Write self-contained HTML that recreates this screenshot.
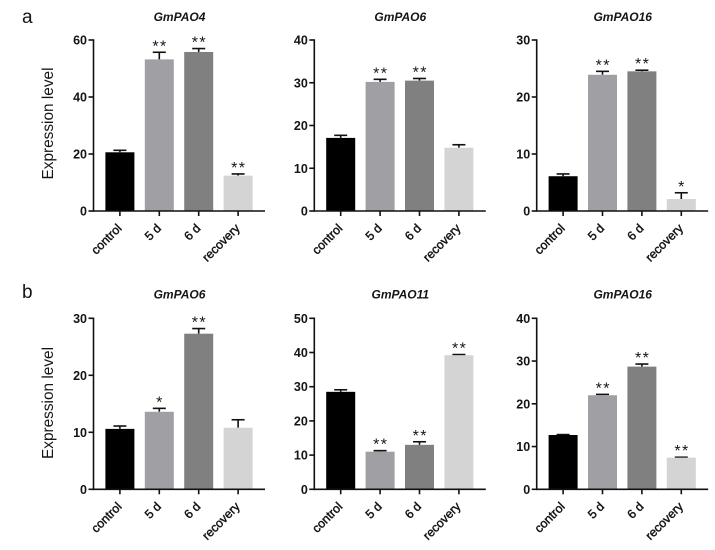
<!DOCTYPE html>
<html lang="en">
<head>
<meta charset="utf-8">
<title>Expression level charts</title>
<style>
html,body{margin:0;padding:0;background:#fff;width:715px;height:550px;overflow:hidden}
svg{display:block;filter:blur(0.3px)}
text{font-family:"Liberation Sans",Arial,sans-serif;fill:#151515}
</style>
</head>
<body>
<svg id="figure" width="715" height="550" viewBox="0 0 715 550" xmlns="http://www.w3.org/2000/svg">
  <text x="22" y="23" font-size="19">a</text>
  <text x="22" y="298" font-size="19">b</text>
  <text transform="translate(52.8,123.5) rotate(-90)" text-anchor="middle" font-size="15.8" textLength="112" lengthAdjust="spacingAndGlyphs">Expression level</text>
  <text transform="translate(52.8,403) rotate(-90)" text-anchor="middle" font-size="15.8" textLength="112" lengthAdjust="spacingAndGlyphs">Expression level</text>
</svg>
<script>
const categories = ['control', '5 d', '6 d', 'recovery'];
const barColors = ['#000000', '#a0a0a4', '#808080', '#d4d4d4'];

const titles = ['GmPAO4', 'GmPAO6', 'GmPAO16', 'GmPAO6', 'GmPAO11', 'GmPAO16'];
const axisMaxima = [60, 40, 30, 30, 50, 40];
const axisSteps = [20, 10, 10, 10, 10, 10];

const meansA1 = [20.6, 53.2, 55.8, 12.4];
const meansA2 = [17.1, 30.2, 30.5, 14.8];
const meansA3 = [6.1, 23.9, 24.5, 2.1];
const meansB1 = [10.6, 13.6, 27.3, 10.8];
const meansB2 = [28.5, 11.0, 13.0, 39.2];
const meansB3 = [12.7, 22.0, 28.7, 7.4];

const errorsA1 = [0.7, 2.5, 1.2, 0.6];
const errorsA2 = [0.6, 0.6, 0.5, 0.7];
const errorsA3 = [0.4, 0.6, 0.2, 1.1];
const errorsB1 = [0.5, 0.6, 0.9, 1.4];
const errorsB2 = [0.6, 0.3, 0.9, 0.2];
const errorsB3 = [0.1, 0.2, 0.6, 0.1];

const marksA1 = ['', '**', '**', '**'];
const marksA2 = ['', '**', '**', ''];
const marksA3 = ['', '**', '**', '*'];
const marksB1 = ['', '*', '**', ''];
const marksB2 = ['', '**', '**', '**'];
const marksB3 = ['', '**', '**', '**'];

const allMeans = [meansA1, meansA2, meansA3, meansB1, meansB2, meansB3];
const allErrors = [errorsA1, errorsA2, errorsA3, errorsB1, errorsB2, errorsB3];
const allMarks = [marksA1, marksA2, marksA3, marksB1, marksB2, marksB3];

const NS = 'http://www.w3.org/2000/svg';
const root = document.getElementById('figure');

function svgEl(tag, parent, props) {
  const el = document.createElementNS(NS, tag);
  Object.keys(props).forEach(function (k) { el.setAttribute(k, props[k]); });
  parent.appendChild(el);
  return el;
}

function drawPanel(index) {
  const col = index % 3;
  const row = index < 3 ? 0 : 1;
  const axisX = [93.5, 314.3, 536.7][col];
  const y0 = row === 0 ? 211 : 489.3;
  const yTop = row === 0 ? 40 : 318.3;
  const yMax = axisMaxima[index];
  const yScale = function (v) { return y0 - (v / yMax) * (y0 - yTop); };
  const xScale = function (i) { return axisX + 26.4 + i * 39.4; };
  const axisEnd = axisX + 171.5;

  const g = svgEl('g', root, {});
  
  

  const title = svgEl('text', g, {
    x: axisX + 86, y: row === 0 ? 21 : 298.5,
    'text-anchor': 'middle', 'font-size': 12, 'font-weight': 'bold', 'font-style': 'italic'
  });
  title.textContent = titles[index];
  
  

  categories.forEach(function (cat, i) {
    const cx = xScale(i);
    const mean = allMeans[index][i];
    const top = mean + allErrors[index][i];
    const capY = yScale(top);

    const stem = svgEl('line', g, { x1: cx, x2: cx, y1: yScale(mean), y2: capY, stroke: '#111', 'stroke-width': 1.6 });
    
    

    const cap = svgEl('line', g, { x1: cx - 6.5, x2: cx + 6.5, y1: capY, y2: capY, stroke: '#111', 'stroke-width': 1.6 });
    
    

    const bar = svgEl('rect', g, {
      x: cx - 14.5, width: 29, y: yScale(mean), height: y0 - yScale(mean), fill: barColors[i]
    });
    
    

    if (allMarks[index][i]) {
      const star = svgEl('text', g, {
        x: cx + 0.7, y: capY - 1, 'text-anchor': 'middle', 'font-size': 16, 'letter-spacing': 1.4
      });
      star.textContent = allMarks[index][i];
      
      
    }

    const tick = svgEl('line', g, { x1: cx, x2: cx, y1: y0, y2: y0 + 5, stroke: '#111', 'stroke-width': 1.6 });
    
    

    const label = svgEl('text', g, {
      transform: 'translate(' + (cx + 2.5) + ',' + (y0 + 18) + ') rotate(-45)',
      'text-anchor': 'end', 'font-size': 12.3, stroke: '#151515', 'stroke-width': 0.45
    });
    label.textContent = cat;
    
    
  });

  for (let v = 0; v <= yMax; v += axisSteps[index]) {
    const y = yScale(v);
    const tick = svgEl('line', g, { x1: axisX - 5, x2: axisX, y1: y, y2: y, stroke: '#111', 'stroke-width': 1.6 });
    
    

    const label = svgEl('text', g, {
      x: axisX - 6.5, y: y + 4.5, 'text-anchor': 'end', 'font-size': 12.5, 'font-weight': 'bold'
    });
    label.textContent = v;
    
    
  }

  const yAxis = svgEl('line', g, { x1: axisX, x2: axisX, y1: yTop - 0.8, y2: y0 + 0.8, stroke: '#111', 'stroke-width': 1.6 });
  
  

  const xAxis = svgEl('line', g, { x1: axisX, x2: axisEnd, y1: y0, y2: y0, stroke: '#111', 'stroke-width': 1.6 });
  
  
}

titles.forEach(function (_, i) { drawPanel(i); });
</script>
</body>
</html>
